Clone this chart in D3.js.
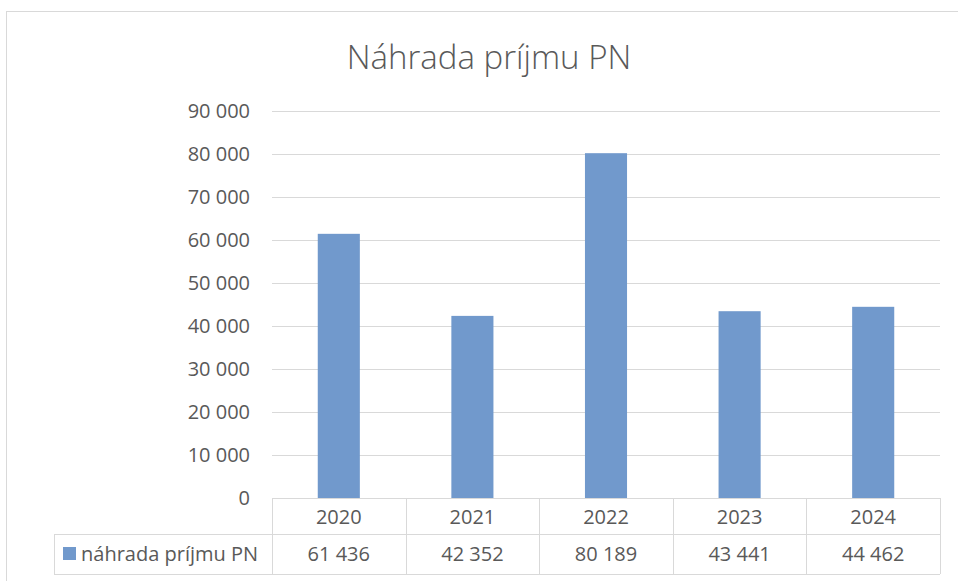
<!DOCTYPE html>
<html>
<head>
<meta charset="utf-8">
<script src="https://cdn.jsdelivr.net/npm/d3@7"></script>
<style>
  body { margin: 0; background: #fff; }
  svg text { font-family: "Open Sans", "Liberation Sans", sans-serif; fill: #595959; }
</style>
</head>
<body>
<svg id="mainsvg" width="958" height="581"></svg>
<script>
const years = ['2020', '2021', '2022', '2023', '2024'];
const values = [61436, 42352, 80189, 43441, 44462];
const yTicks = [0, 10000, 20000, 30000, 40000, 50000, 60000, 70000, 80000, 90000];
const seriesName = 'náhrada príjmu PN';
const title = 'Náhrada príjmu PN';

const svg = d3.select('#mainsvg');
const margin = { top: 111, left: 272, right: 18, bottom: 83 };
const width = +svg.attr('width');
const height = +svg.attr('height');
const innerWidth = width - margin.left - margin.right;
const innerHeight = height - margin.top - margin.bottom;

const fmt = v => d3.format(',')(v).replace(/,/g, ' ');

// outer chart border
svg.append('rect')
    .attr('x', 6.5).attr('y', 11.5)
    .attr('width', 960).attr('height', 580)
    .attr('fill', 'none').attr('stroke', '#d9d9d9');

svg.append('text')
    .attr('x', 489).attr('y', 69)
    .attr('text-anchor', 'middle')
    .attr('font-size', 33)
    .style('font-weight', 300)
    .text(title);

const g = svg.append('g')
    .attr('transform', `translate(${margin.left},${margin.top})`);

const x = d3.scaleBand().domain(years).range([0, innerWidth]).paddingInner(0).paddingOuter(0);
const y = d3.scaleLinear().domain([0, 90000]).range([innerHeight, 0]);

// gridlines
g.selectAll('.grid').data(yTicks).enter()
    .append('line')
    .attr('x1', 0).attr('x2', innerWidth)
    .attr('y1', d => Math.round(y(d)) + 0.5)
    .attr('y2', d => Math.round(y(d)) + 0.5)
    .attr('stroke', '#d9d9d9').attr('stroke-width', 1);

g.selectAll('.ylab').data(yTicks).enter()
    .append('text')
    .attr('x', -22)
    .attr('y', d => y(d) + 7)
    .attr('text-anchor', 'end')
    .attr('font-size', 20)
    .text(d => fmt(d));

const barW = x.bandwidth() * 0.315;
g.selectAll('.bar').data(values).enter()
    .append('rect')
    .attr('x', (d, i) => x(years[i]) + (x.bandwidth() - barW) / 2)
    .attr('y', d => y(d))
    .attr('width', barW)
    .attr('height', d => innerHeight - y(d))
    .attr('fill', '#7199cc');

// data table
const rowH = [36, 40];
const tableTop = innerHeight;
const legendLeft = 54 - margin.left;
const tg = g.append('g').attr('stroke', '#d9d9d9').attr('fill', 'none');

// horizontal lines
tg.append('line').attr('x1', 0).attr('x2', innerWidth)
    .attr('y1', tableTop + 0.5).attr('y2', tableTop + 0.5);
tg.append('line').attr('x1', legendLeft).attr('x2', innerWidth)
    .attr('y1', tableTop + rowH[0] + 0.5).attr('y2', tableTop + rowH[0] + 0.5);
tg.append('line').attr('x1', legendLeft).attr('x2', innerWidth)
    .attr('y1', tableTop + rowH[0] + rowH[1] + 0.5).attr('y2', tableTop + rowH[0] + rowH[1] + 0.5);
// vertical lines
tg.append('line').attr('x1', legendLeft + 0.5).attr('x2', legendLeft + 0.5)
    .attr('y1', tableTop + rowH[0]).attr('y2', tableTop + rowH[0] + rowH[1]);
tg.selectAll('.vl').data(years.concat(['end'])).enter()
    .append('line')
    .attr('x1', (d, i) => Math.round(i * x.bandwidth()) + 0.5)
    .attr('x2', (d, i) => Math.round(i * x.bandwidth()) + 0.5)
    .attr('y1', tableTop).attr('y2', tableTop + rowH[0] + rowH[1]);

g.selectAll('.xlab').data(years).enter()
    .append('text')
    .attr('x', d => x(d) + x.bandwidth() / 2)
    .attr('y', tableTop + 26)
    .attr('text-anchor', 'middle')
    .attr('font-size', 20)
    .text(d => d);

g.selectAll('.vlab').data(values).enter()
    .append('text')
    .attr('x', (d, i) => x(years[i]) + x.bandwidth() / 2)
    .attr('y', tableTop + rowH[0] + 27)
    .attr('text-anchor', 'middle')
    .attr('font-size', 20)
    .text(d => fmt(d));

g.append('rect')
    .attr('x', legendLeft + 9).attr('y', tableTop + rowH[0] + 13)
    .attr('width', 13).attr('height', 13)
    .attr('fill', '#7199cc');
g.append('text')
    .attr('x', legendLeft + 27).attr('y', tableTop + rowH[0] + 27)
    .attr('font-size', 20)
    .text(seriesName);
</script>
</body>
</html>
